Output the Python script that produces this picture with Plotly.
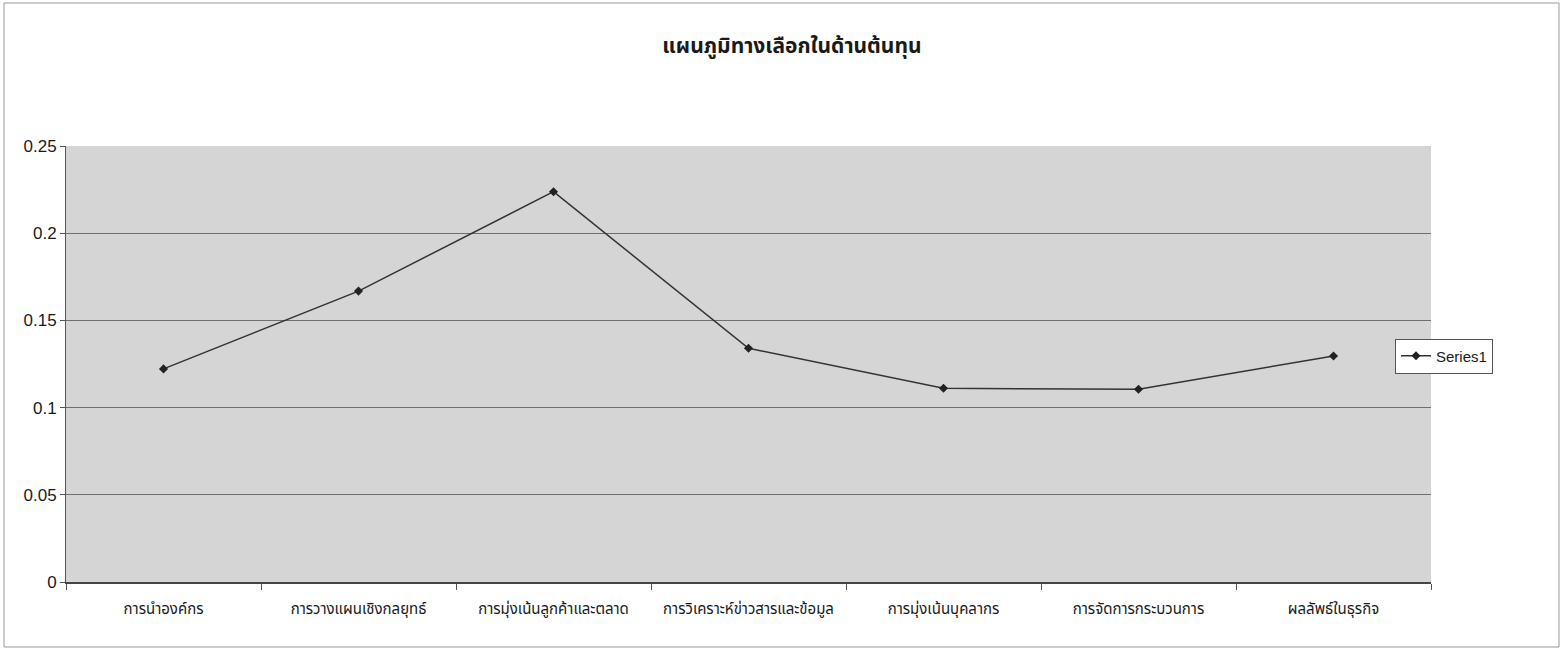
import plotly.graph_objects as go

# Categories and values of the cost-alternatives chart
categories = [
    "การนำองค์กร",
    "การวางแผนเชิงกลยุทธ์",
    "การมุ่งเน้นลูกค้าและตลาด",
    "การวิเคราะห์ข่าวสารและข้อมูล",
    "การมุ่งเน้นบุคลากร",
    "การจัดการกระบวนการ",
    "ผลลัพธ์ในธุรกิจ",
]
series1 = [0.1222, 0.1668, 0.2238, 0.1340, 0.1111, 0.1105, 0.1296]
y_ticks = [0, 0.05, 0.1, 0.15, 0.2, 0.25]
y_tick_text = ["0", "0.05", "0.1", "0.15", "0.2", "0.25"]
title_text = "แผนภูมิทางเลือกในด้านต้นทุน"

FONT = "Liberation Sans Narrow, Arial Narrow, Liberation Sans, Noto Sans Thai, sans-serif"

fig = go.Figure()
fig.add_trace(go.Scatter(
    x=categories,
    y=series1,
    mode="lines+markers",
    name="Series1",
    line=dict(color="#333333", width=1.5),
    marker=dict(symbol="diamond", size=7, color="#222222"),
))

fig.update_layout(
    width=1562,
    height=650,
    margin=dict(l=66, r=131, t=146, b=68, autoexpand=False),
    paper_bgcolor="white",
    plot_bgcolor="#d5d5d5",
    font=dict(family=FONT, color="#1a1a1a", size=15),
    title=dict(
        text="<b>" + title_text + "</b>",
        x=0.507, xanchor="center",
        y=0.93, yanchor="middle",
        font=dict(size=21, family=FONT, color="#1a1a1a"),
    ),
    showlegend=True,
    legend=dict(
        x=(1395 - 66) / 1365, xanchor="left",
        y=(582 - 356) / 436, yanchor="middle",
        bgcolor="white",
        bordercolor="#555555",
        borderwidth=1,
        itemwidth=30,
        font=dict(size=15, family=FONT, color="#1a1a1a"),
    ),
    xaxis=dict(
        type="category",
        tickson="boundaries",
        ticks="outside",
        ticklen=6,
        tickcolor="#555555",
        ticklabelstandoff=12,
        showgrid=False,
        showline=True,
        linecolor="#444444",
        linewidth=1.5,
        range=[-0.5, 6.5],
        tickfont=dict(size=15, family=FONT, color="#1a1a1a"),
        zeroline=False,
    ),
    yaxis=dict(
        range=[0, 0.25],
        tickvals=y_ticks,
        ticktext=y_tick_text,
        ticks="outside",
        ticklen=5,
        tickcolor="#555555",
        showgrid=True,
        gridcolor="#6e6e6e",
        gridwidth=1,
        showline=True,
        linecolor="#555555",
        zeroline=False,
        tickfont=dict(size=17, family=FONT, color="#1a1a1a"),
    ),
)

# Thin border around the whole chart area
fig.add_shape(
    type="rect", xref="paper", yref="paper",
    x0=-62 / 1365, x1=1.0 + 128 / 1365,
    y0=-65 / 436, y1=1.0 + 143 / 436,
    line=dict(color="#999999", width=1),
    layer="below",
)

fig.write_html("out.html")
